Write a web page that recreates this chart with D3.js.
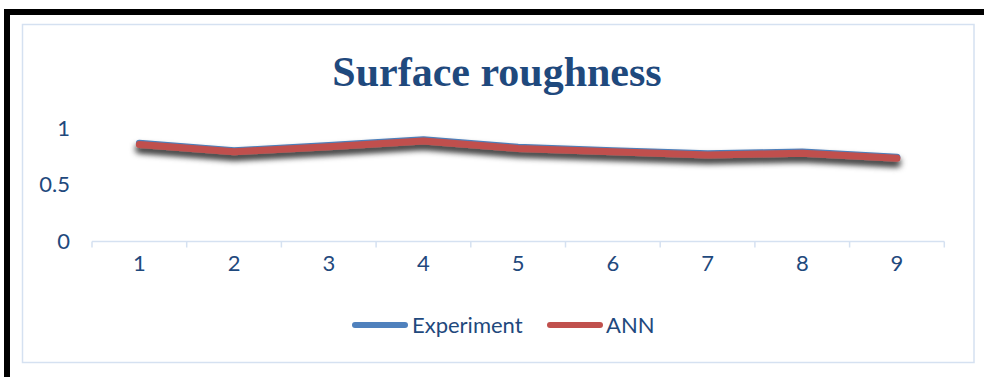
<!DOCTYPE html>
<html>
<head>
<meta charset="utf-8">
<script src="https://cdn.jsdelivr.net/npm/d3@7"></script>
<style>
  html, body { margin: 0; padding: 0; background: #ffffff; }
  svg { display: block; }
</style>
</head>
<body>
<svg id="chart" width="984" height="377"></svg>
<script>
// Run numbers along the x axis
const runs = [1, 2, 3, 4, 5, 6, 7, 8, 9];
// Measured surface roughness per run
const experiment = [0.866, 0.80, 0.846, 0.897, 0.83, 0.80, 0.773, 0.788, 0.743];
// ANN-predicted surface roughness per run
const ann = [0.855, 0.79, 0.835, 0.885, 0.82, 0.79, 0.762, 0.777, 0.733];
// Value-axis tick labels
const yTicks = [0, 0.5, 1];
const seriesNames = ["Experiment", "ANN"];
const seriesColors = ["#4f81bd", "#c0504d"];

const svg = d3.select("#chart");
const textColor = "#1f497d";
const axisColor = "#d5e1f1";
const labelFont = "Lato, 'Open Sans', sans-serif";

// Soft drop shadow under each series line
const defs = svg.append("defs");
const shadow = defs.append("filter").attr("id", "lineShadow")
  .attr("x", "-10%").attr("y", "-200%").attr("width", "120%").attr("height", "500%");
shadow.append("feDropShadow")
  .attr("dx", 0).attr("dy", 5).attr("stdDeviation", 3)
  .attr("flood-color", "#000").attr("flood-opacity", 0.6);

// Outer black frame (top and left edges)
svg.append("path")
  .attr("d", "M7,390 L7,12 L1000,12")
  .attr("fill", "none").attr("stroke", "#000").attr("stroke-width", 6);

// Chart area border
svg.append("rect")
  .attr("x", 22.5).attr("y", 24.5).attr("width", 951.5).attr("height", 338)
  .attr("fill", "#fff").attr("stroke", axisColor).attr("stroke-width", 1.5);

// Title
svg.append("text")
  .attr("x", 497).attr("y", 86)
  .attr("text-anchor", "middle")
  .attr("font-family", "'Liberation Serif', 'Times New Roman', serif")
  .attr("font-weight", "bold").attr("font-size", 42)
  .attr("fill", textColor)
  .text("Surface roughness");

// Scales
const x = d3.scaleBand().domain(runs).range([92, 944.3]);
const y = d3.scaleLinear().domain([0, 1]).range([241.5, 128]);

// Category axis
const xAxis = svg.append("g")
  .attr("transform", "translate(0,241.5)")
  .call(d3.axisBottom(x).tickSize(0).tickPadding(0));
xAxis.select(".domain").remove();
xAxis.selectAll("text")
  .attr("y", 0).attr("dy", "1.35em")
  .attr("font-family", labelFont).attr("font-size", 22)
  .attr("fill", textColor);
xAxis.append("line")
  .attr("x1", x.range()[0]).attr("x2", x.range()[1])
  .attr("stroke", axisColor).attr("stroke-width", 1.5);
// Tick marks on band boundaries
const bounds = runs.map(r => x(r)).concat([x.range()[1]]);
xAxis.selectAll(".bound").data(bounds).enter().append("line")
  .attr("class", "bound")
  .attr("x1", d => d).attr("x2", d => d)
  .attr("y1", 0).attr("y2", 6)
  .attr("stroke", axisColor).attr("stroke-width", 1.5);

// Value axis labels only
const yAxis = svg.append("g")
  .attr("transform", "translate(70,0)")
  .call(d3.axisLeft(y).tickValues(yTicks).tickSize(0).tickPadding(0)
    .tickFormat(d3.format("")));
yAxis.select(".domain").remove();
yAxis.selectAll("text")
  .attr("font-family", labelFont).attr("font-size", 22)
  .attr("fill", textColor);

// Series lines
const line = d3.line()
  .x((d, i) => x(runs[i]) + x.bandwidth() / 2)
  .y(d => y(d));

[experiment, ann].forEach((vals, k) => {
  svg.append("path")
    .datum(vals)
    .attr("d", line)
    .attr("fill", "none")
    .attr("stroke", seriesColors[k])
    .attr("stroke-width", 7)
    .attr("stroke-linecap", "round")
    .attr("stroke-linejoin", "round")
    .attr("filter", "url(#lineShadow)");
});

// Legend
const legendItems = [
  { name: seriesNames[0], color: seriesColors[0], x1: 352, x2: 408, tx: 412 },
  { name: seriesNames[1], color: seriesColors[1], x1: 547, x2: 603, tx: 606 }
];
const legend = svg.append("g").attr("transform", "translate(0,325)");
legendItems.forEach(it => {
  legend.append("line")
    .attr("x1", it.x1 + 3).attr("x2", it.x2 - 3)
    .attr("stroke", it.color).attr("stroke-width", 6)
    .attr("stroke-linecap", "round");
  legend.append("text")
    .attr("x", it.tx).attr("y", 0).attr("dy", "0.35em")
    .attr("font-family", labelFont).attr("font-size", 22)
    .attr("fill", textColor)
    .text(it.name);
});
</script>
</body>
</html>
